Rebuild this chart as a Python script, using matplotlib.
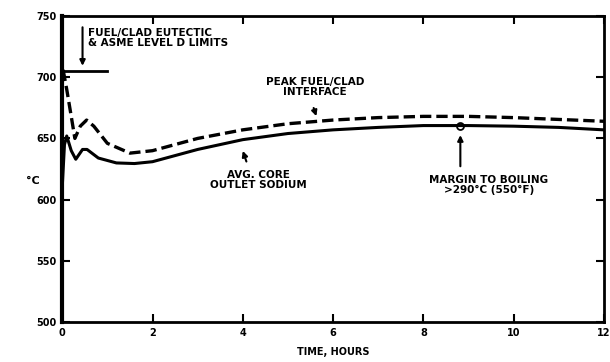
import matplotlib
matplotlib.use("Agg")
import matplotlib.pyplot as plt

# peak fuel/clad interface (dashed)
t_peak = [0.02, 0.1, 0.2, 0.28, 0.4, 0.54, 0.7, 1.0, 1.5, 2.0, 3.0, 4.0, 5.0,
          6.0, 7.0, 8.0, 9.0, 10.0, 11.0, 12.0]
T_peak = [706, 690, 668, 650, 660, 665, 660, 646, 638, 640, 650, 657, 662,
          665, 667, 668, 668, 667, 665.5, 664]

# avg core outlet sodium (solid)
t_sod = [0.0, 0.05, 0.1, 0.2, 0.3, 0.45, 0.55, 0.8, 1.2, 1.6, 2.0, 3.0, 4.0,
         5.0, 6.0, 7.0, 8.0, 9.0, 10.0, 11.0, 12.0]
T_sod = [610, 645, 652, 640, 633, 641, 641, 634, 630, 629.5, 631, 641, 649,
         654, 657, 659, 660.5, 660.5, 660, 659, 657]

# eutectic / ASME level D limit
t_limit = [0.0, 1.0]
T_limit = [705, 705]

x_ticks = [0, 2, 4, 6, 8, 10, 12]
y_ticks = [500, 550, 600, 650, 700, 750]

boil_t, boil_T = 8.82, 660


def main():
    plt.rcParams['font.family'] = 'DejaVu Sans'
    plt.rcParams['font.weight'] = 'bold'
    fig = plt.figure(figsize=(6.1, 3.62), dpi=100)
    ax = fig.add_axes([0.102, 0.110, 0.888, 0.846])

    ax.plot(t_peak, T_peak, color='black', lw=2.4, ls=(0, (3.4, 1.5)))
    ax.plot(t_sod, T_sod, color='black', lw=2.2)
    ax.plot(t_limit, T_limit, color='black', lw=2.0)

    ax.set_xlim(0, 12)
    ax.set_ylim(500, 750)
    ax.set_xticks(x_ticks)
    ax.set_yticks(y_ticks)
    ax.tick_params(direction='in', length=6, width=1.5, labelsize=7,
                   top=True, right=True, pad=4)
    for lab in ax.get_xticklabels() + ax.get_yticklabels():
        lab.set_fontweight('bold')
    for side in ['top', 'right', 'bottom']:
        ax.spines[side].set_linewidth(2.0)
    ax.spines['left'].set_linewidth(3.0)

    ax.set_xlabel('TIME, HOURS', fontsize=7, fontweight='bold', labelpad=7)
    ax.set_ylabel('°C', fontsize=8, fontweight='bold', rotation=0,
                  va='center')
    ax.yaxis.set_label_coords(-0.055, 0.46)

    arrow = dict(arrowstyle='-|>', color='black', lw=1.5, mutation_scale=8)
    ax.text(0.57, 740, 'FUEL/CLAD EUTECTIC\n& ASME LEVEL D LIMITS',
            fontsize=7.5, fontweight='bold', va='top', ha='left',
            linespacing=0.95)
    ax.annotate('', xy=(0.45, 707), xytext=(0.45, 743), arrowprops=arrow)

    ax.text(5.6, 692, 'PEAK FUEL/CLAD\nINTERFACE', fontsize=7.5,
            fontweight='bold', ha='center', va='center', linespacing=0.95)
    ax.annotate('', xy=(5.65, 666), xytext=(5.55, 677), arrowprops=arrow)

    ax.text(4.35, 616, 'AVG. CORE\nOUTLET SODIUM', fontsize=7.5,
            fontweight='bold', ha='center', va='center', linespacing=0.95)
    ax.annotate('', xy=(3.98, 642), xytext=(4.1, 629), arrowprops=arrow)

    ax.plot([boil_t], [boil_T], marker='o', ms=5, mfc='none', mec='black',
            mew=1.3)
    ax.text(9.45, 612, 'MARGIN TO BOILING\n>290°C (550°F)', fontsize=7.5,
            fontweight='bold', ha='center', va='center', linespacing=0.95)
    ax.annotate('', xy=(boil_t, 655), xytext=(boil_t, 625), arrowprops=arrow)

    fig.savefig('out.png', dpi=100)


if __name__ == "__main__":
    main()
